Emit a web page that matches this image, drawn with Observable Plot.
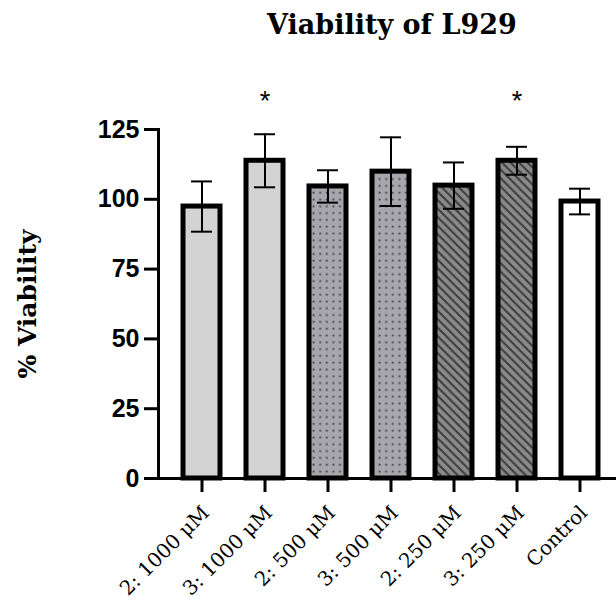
<!DOCTYPE html>
<html>
<head>
<meta charset="utf-8">
<script src="https://cdn.jsdelivr.net/npm/d3@7"></script>
<script src="https://cdn.jsdelivr.net/npm/@observablehq/plot@0.6"></script>
<style>
  body { margin: 0; background: #fff; }
  #wrap { width: 616px; height: 603px; position: relative; overflow: hidden; background: #fff; }
  #title { height: 60px; position: relative; }
  #title span { position: absolute; left: 392px; top: 9px; transform: translateX(-50%); white-space: nowrap;
    font-family: "DejaVu Serif", serif; font-weight: bold; font-size: 27px; color: #000; }
  #chart svg { display: block; }
</style>
</head>
<body>
<div id="wrap">
  <div id="title"><span>Viability of L929</span></div>
  <div id="chart"></div>
</div>
<script>
// ---- data ----
const categories = ["2: 1000 μM", "3: 1000 μM", "2: 500 μM", "3: 500 μM", "2: 250 μM", "3: 250 μM", "Control"];
const means = [97.4, 113.8, 104.6, 109.9, 104.9, 113.8, 99.2];
const sds = [9.0, 9.5, 5.8, 12.3, 8.3, 5.0, 4.6];
const groups = ["1000 μM", "1000 μM", "500 μM", "500 μM", "250 μM", "250 μM", "Control"];
const significant = ["3: 1000 μM", "3: 250 μM"];
const starLevel = 137;
const yTicks = [0, 25, 50, 75, 100, 125];
const yLabel = "% Viability";

const rows = categories.map((c, i) => ({category: c, mean: means[i], sd: sds[i], group: groups[i]}));

const serif = "DejaVu Serif, serif";
const sans = "Liberation Sans, Arial, sans-serif";

const chart = Plot.plot({
  width: 616,
  height: 543,
  marginLeft: 158,
  marginRight: 0,
  marginTop: 69,
  marginBottom: 125,
  style: {background: "#fff", color: "#000", overflow: "visible"},
  x: {domain: categories, range: [158, 623], paddingInner: 0.417, paddingOuter: 0.37, label: null},
  y: {domain: [0, 125], label: null},
  color: {domain: ["1000 μM", "500 μM", "250 μM", "Control"], range: ["#d3d3d3", "url(#pat-dots)", "url(#pat-hatch)", "#ffffff"]},
  marks: [
    Plot.barY(rows, {x: "category", y: "mean", fill: "group", stroke: "#000", strokeWidth: 5}),
    Plot.ruleX(rows, {x: "category", y1: d => d.mean - d.sd, y2: d => d.mean + d.sd, stroke: "#000", strokeWidth: 2}),
    Plot.tickY(rows, {x: "category", y: d => d.mean + d.sd, inset: 8, stroke: "#000", strokeWidth: 2}),
    Plot.tickY(rows, {x: "category", y: d => d.mean - d.sd, inset: 8, stroke: "#000", strokeWidth: 2}),
    Plot.text(significant, {x: d => d, y: starLevel, text: () => "*", fontSize: 27, fontFamily: sans, dy: 5, fill: "#000"}),
    Plot.frame({anchor: "left", stroke: "#000", strokeWidth: 3}),
    Plot.ruleY([0], {stroke: "#000", strokeWidth: 3}),
    Plot.axisY({ticks: yTicks, tickSize: 14, tickPadding: 5, strokeWidth: 3, fontSize: 25, fontWeight: "bold", fontFamily: sans, label: null, fill: "#000"}),
    // x tick marks only
    Plot.axisX({tickSize: 14, tickFormat: () => "", strokeWidth: 3, label: null}),
    // x tick labels only
    Plot.axisX({tickSize: 0, tickPadding: 18, tickRotate: -45, fontSize: 20, fontWeight: "normal", fontFamily: serif, label: null, fill: "#000", dx: 4, dy: 13})
  ].concat([
    Plot.text([yLabel], {frameAnchor: "left", text: d => d, rotate: -90, dx: -131, fontSize: 25, fontWeight: "bold", fontFamily: serif, fill: "#000", textAnchor: "middle", lineAnchor: "middle"})
  ])
});

// pattern definitions
const svg = d3.select(chart);
const defs = svg.insert("defs", ":first-child");
const dots = defs.append("pattern").attr("id", "pat-dots").attr("patternUnits", "userSpaceOnUse")
  .attr("width", 6.6).attr("height", 6.8);
dots.append("rect").attr("width", 6.6).attr("height", 6.8).attr("fill", "#a6a6ac");
dots.append("rect").attr("x", 2.5).attr("y", 2.6).attr("width", 1.8).attr("height", 1.8).attr("fill", "#404040");
const hatch = defs.append("pattern").attr("id", "pat-hatch").attr("patternUnits", "userSpaceOnUse")
  .attr("width", 8.5).attr("height", 8.5);
hatch.append("rect").attr("width", 8.5).attr("height", 8.5).attr("fill", "#8a8a8a");
hatch.append("path").attr("d", "M-2,-2 L10.5,10.5 M-2,6.5 L2,10.5 M6.5,-2 L10.5,2").attr("stroke", "#3a3a3a").attr("stroke-width", 1.9);

document.getElementById("chart").appendChild(chart);
</script>
</body>
</html>
